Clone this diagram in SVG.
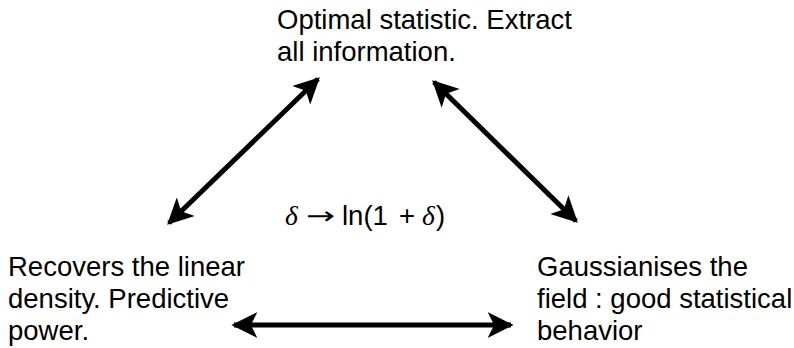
<svg xmlns="http://www.w3.org/2000/svg" width="794" height="348" viewBox="0 0 794 348">
<style>
.t{font-family:"Liberation Sans",Arial,sans-serif;font-size:27.5px;fill:#000}
.m{font-family:"Liberation Serif","Times New Roman",serif;font-style:italic}
.c{stroke:#000;stroke-width:5;fill:none}
</style>
<defs>
<marker id="ah" viewBox="0 0 10 10" refX="9" refY="5" markerWidth="5.2" markerHeight="5.2" orient="auto-start-reverse" markerUnits="strokeWidth">
<path d="M0,0 L10,5 L0,10 L2.5,5 Z" fill="#000"/>
</marker>
</defs>
<rect width="794" height="348" fill="#fff"/>
<g id="top"><text class="t" x="277" y="29">Optimal statistic. Extract</text><text class="t" x="277" y="61">all information.</text></g>
<g id="left"><text class="t" x="8" y="276">Recovers the linear</text><text class="t" x="8" y="308">density. Predictive</text><text class="t" x="8" y="340">power.</text></g>
<g id="right"><text class="t" x="537" y="276">Gaussianises the</text><text class="t" x="537" y="308">field : good statistical</text><text class="t" x="537" y="340">behavior</text></g>
<g id="label"><text class="t" y="225"><tspan class="m" x="285">δ</tspan><tspan font-family="DejaVu Sans,sans-serif" font-size="24px" x="306" dy="-1" textLength="29" lengthAdjust="spacingAndGlyphs">→</tspan><tspan x="342" dy="1">ln(1</tspan><tspan x="399">+</tspan><tspan class="m" x="422">δ</tspan><tspan x="436">)</tspan></text></g>
<g id="connectors">
<line class="c" x1="169" y1="223" x2="318" y2="79" marker-start="url(#ah)" marker-end="url(#ah)"/>
<line class="c" x1="434" y1="82" x2="576" y2="221" marker-start="url(#ah)" marker-end="url(#ah)"/>
<line class="c" x1="234" y1="325" x2="511" y2="325" marker-start="url(#ah)" marker-end="url(#ah)"/>
</g>
</svg>
